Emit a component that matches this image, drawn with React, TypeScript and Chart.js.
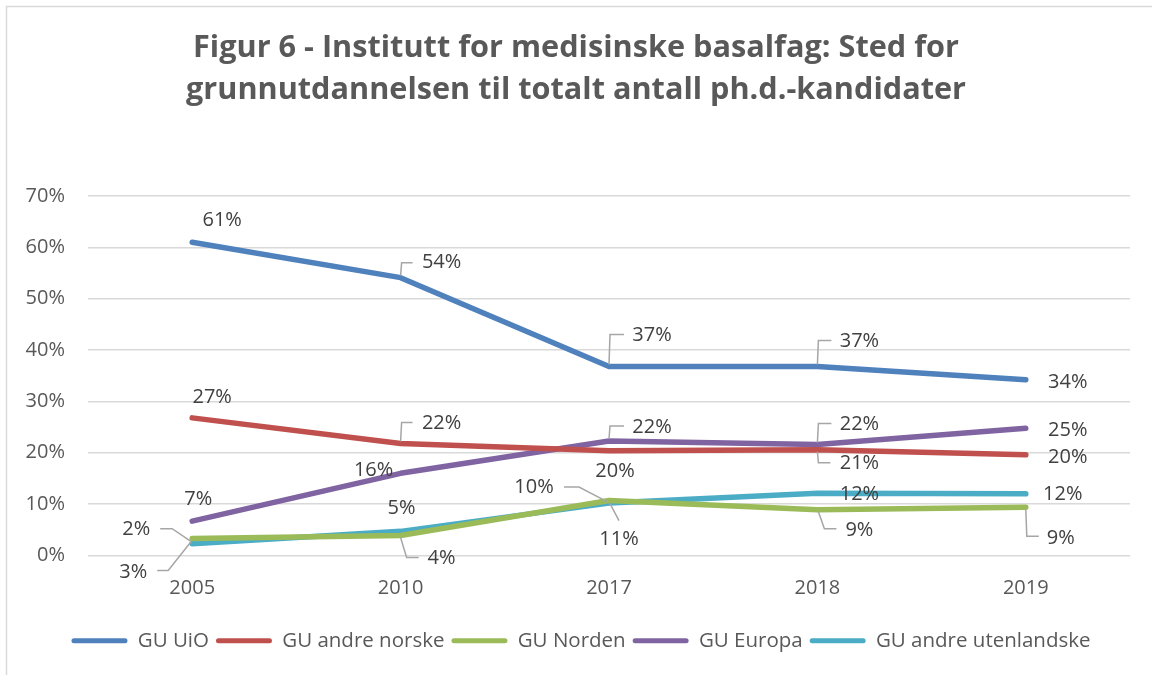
import React, { useEffect, useRef } from "react";
import { Chart, registerables } from "chart.js";

Chart.register(...registerables);

// ---- Data ----
const categories = ["2005", "2010", "2017", "2018", "2019"];
const guUiO = [61.0, 54.1, 36.8, 36.8, 34.2];
const guAndreNorske = [26.8, 21.8, 20.4, 20.6, 19.6];
const guNorden = [3.3, 3.9, 10.7, 8.9, 9.4];
const guEuropa = [6.7, 16.0, 22.3, 21.6, 24.8];
const guAndreUtenlandske = [2.3, 4.7, 10.2, 12.1, 12.0];
const seriesNames = ["GU UiO", "GU andre norske", "GU Norden", "GU Europa", "GU andre utenlandske"];
const titleLines = [
  "Figur 6 - Institutt for medisinske basalfag: Sted for",
  "grunnutdannelsen til totalt antall ph.d.-kandidater",
];
const yMax = 70;
const yStep = 10;

// ---- Styles ----
const seriesColors = ["#4F81BD", "#C0504D", "#9BBB59", "#8064A2", "#4BACC6"];
const FONT = '"Open Sans", "Liberation Sans", sans-serif';

// label placement (offset from point to label centre) + optional leader polyline (relative to point)
type LabelPos = { dx: number; dy: number; leader?: number[][] };
const labelLayout: LabelPos[][] = [
  [
    { dx: 30, dy: -22 },
    { dx: 41, dy: -15, leader: [[0, -2], [1, -15], [12, -15]] },
    { dx: 43, dy: -31, leader: [[0, -2], [1, -32], [15, -32]] },
    { dx: 42, dy: -25, leader: [[0, -2], [1, -26], [14, -26]] },
    { dx: 42, dy: 2 },
  ],
  [
    { dx: 20, dy: -21 },
    { dx: 41, dy: -20, leader: [[0, -2], [1, -21], [12, -21]] },
    { dx: 6, dy: 21 },
    { dx: 42, dy: 14, leader: [[0, 2], [1, 13], [13, 13]] },
    { dx: 42, dy: 2 },
  ],
  [
    { dx: -59, dy: 34, leader: [[-1, 3], [-24, 32], [-35, 32]] },
    { dx: 41, dy: 23, leader: [[0, 2], [6, 22], [18, 22]] },
    { dx: 10, dy: 39, leader: [[1, 3], [10, 20]] },
    { dx: 42, dy: 21, leader: [[1, 2], [7, 19], [19, 19]] },
    { dx: 35, dy: 31, leader: [[0, 2], [1, 29], [13, 29]] },
  ],
  [
    { dx: 6, dy: -22 },
    { dx: -27, dy: -3 },
    { dx: 43, dy: -14, leader: [[0, -2], [1, -15], [15, -15]] },
    { dx: 42, dy: -20, leader: [[0, -2], [1, -21], [14, -21]] },
    { dx: 42, dy: 2 },
  ],
  [
    { dx: -56, dy: -14, leader: [[-1, -2], [-20, -15], [-32, -15]] },
    { dx: 1, dy: -23 },
    { dx: -75, dy: -16, leader: [[-1, -1], [-30, -16], [-45, -16]] },
    { dx: 42, dy: 1 },
    { dx: 37, dy: 0 },
  ],
];

const framePlugin = {
  id: "frameAndTitle",
  afterLayout(chart: any) {
    if (chart.legend) {
      chart.legend.left += 12;
      chart.legend.right += 12;
    }
  },
  beforeDraw(chart: any) {
    const ctx = chart.ctx;
    ctx.save();
    ctx.fillStyle = "#ffffff";
    ctx.fillRect(0, 0, chart.width, chart.height);
    ctx.strokeStyle = "#d9d9d9";
    ctx.lineWidth = 1.5;
    ctx.strokeRect(6.5, 6.5, chart.width + 20, chart.height + 20);
    ctx.fillStyle = "#595959";
    ctx.font = `bold 31px ${FONT}`;
    ctx.textAlign = "center";
    ctx.textBaseline = "alphabetic";
    ctx.fillText(titleLines[0], 576, 57, 766);
    ctx.fillText(titleLines[1], 576, 99, 780);
    ctx.restore();
  },
};

const labelPlugin = {
  id: "pointLabels",
  afterDatasetsDraw(chart: any) {
    const ctx = chart.ctx;
    ctx.save();
    ctx.font = `20px ${FONT}`;
    ctx.textAlign = "center";
    ctx.textBaseline = "middle";
    chart.data.datasets.forEach((ds: any, d: number) => {
      const meta = chart.getDatasetMeta(d);
      meta.data.forEach((el: any, i: number) => {
        const pos = labelLayout[d][i];
        const x = el.x;
        const y = el.y;
        if (pos.leader) {
          ctx.strokeStyle = "#a6a6a6";
          ctx.lineWidth = 1.5;
          ctx.beginPath();
          pos.leader.forEach((p, k) => {
            if (k === 0) ctx.moveTo(x + p[0], y + p[1]);
            else ctx.lineTo(x + p[0], y + p[1]);
          });
          ctx.stroke();
        }
        ctx.fillStyle = "#404040";
        ctx.fillText(`${Math.round(ds.data[i])}%`, x + pos.dx, y + pos.dy);
      });
    });
    ctx.restore();
  },
};

export default function App() {
  const canvasRef = useRef<HTMLCanvasElement | null>(null);

  useEffect(() => {
    document.body.style.margin = "0";
    const canvas = canvasRef.current;
    if (!canvas) return;
    const seriesData = [guUiO, guAndreNorske, guNorden, guEuropa, guAndreUtenlandske];
    const chart = new Chart(canvas, {
      type: "line",
      data: {
        labels: categories,
        datasets: seriesData.map((values, k) => ({
          label: seriesNames[k],
          data: values,
          borderColor: seriesColors[k],
          backgroundColor: seriesColors[k],
          borderWidth: 5.5,
          borderCapStyle: "round",
          borderJoinStyle: "round",
          pointRadius: 0,
          pointHoverRadius: 0,
          tension: 0,
          fill: false,
        })),
      },
      options: {
        animation: false,
        responsive: true,
        maintainAspectRatio: false,
        layout: { padding: { top: 196, left: 8, right: 22, bottom: 14 } },
        plugins: {
          title: { display: false },
          tooltip: { enabled: false },
          legend: {
            display: true,
            position: "bottom",
            labels: {
              boxWidth: 56,
              boxHeight: 5,
              padding: 7,
              color: "#595959",
              font: { family: FONT, size: 20.5 },
              generateLabels: (c: any) =>
                c.data.datasets.map((ds: any, k: number) => ({
                  text: ds.label,
                  fillStyle: ds.borderColor,
                  strokeStyle: ds.borderColor,
                  lineWidth: 0,
                  borderRadius: 2.5,
                  hidden: false,
                  datasetIndex: k,
                  fontColor: "#595959",
                })),
              useBorderRadius: true,
            },
          },
        },
        scales: {
          x: {
            offset: true,
            grid: { display: false, drawTicks: false },
            border: { display: false },
            ticks: {
              color: "#595959",
              font: { family: FONT, size: 20 },
              padding: 21,
            },
            afterFit: (scale: any) => {
              scale.height = 68;
            },
          },
          y: {
            min: 0,
            max: yMax,
            grid: { color: "#d9d9d9", lineWidth: 1.5, drawTicks: false },
            border: { display: false },
            ticks: {
              stepSize: yStep,
              color: "#595959",
              font: { family: FONT, size: 20 },
              padding: 23,
              callback: (v: any) => `${v}%`,
            },
            afterFit: (scale: any) => {
              scale.width = 80;
            },
          },
        },
      },
      plugins: [framePlugin, labelPlugin],
    });
    return () => chart.destroy();
  }, []);

  return (
    <div style={{ width: 1152, height: 675, position: "relative" }}>
      <canvas ref={canvasRef} />
    </div>
  );
}
